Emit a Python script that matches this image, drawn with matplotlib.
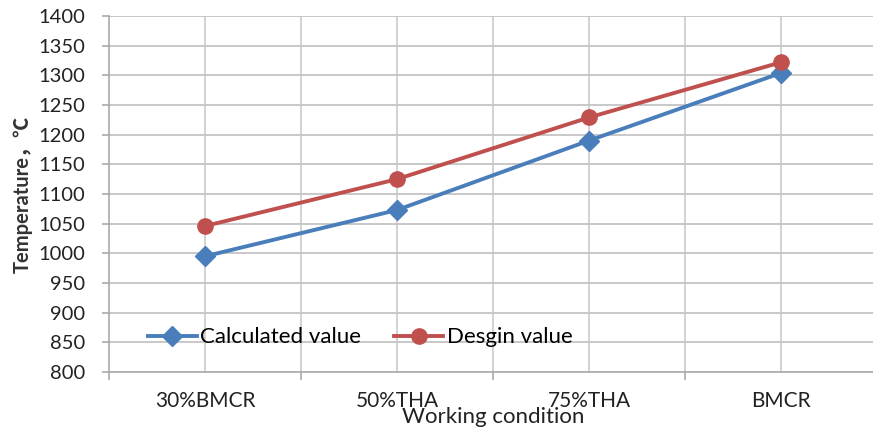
import matplotlib
matplotlib.use("Agg")
import matplotlib.pyplot as plt
import numpy as np

conditions = ["30%BMCR", "50%THA", "75%THA", "BMCR"]
calculated = [995, 1073, 1190, 1304]
design = [1046, 1125, 1229, 1322]
y_ticks = list(range(800, 1401, 50))

plt.rcParams["font.family"] = ["Lato", "Noto Sans CJK SC", "DejaVu Sans"]

fig = plt.figure(figsize=(8.73, 4.40), dpi=100)
ax = fig.add_axes([109 / 873, 1 - 372 / 440, 768 / 873, 356 / 440])

x = np.arange(len(conditions))
blue = "#4a7ebb"
red = "#c0504d"

ax.plot(x, calculated, color=blue, lw=2.8, marker="D", ms=10.5,
        label="Calculated value", zorder=3)
ax.plot(x, design, color=red, lw=2.8, marker="o", ms=11,
        label="Desgin value", zorder=4)

ax.set_xlim(-0.5, 3.5)
ax.set_ylim(800, 1400)
ax.set_yticks(y_ticks)
ax.set_yticklabels([str(v) for v in y_ticks], fontsize=14.5, color="#222222")
ax.set_xticks(x)
ax.set_xticklabels(conditions, fontsize=15, color="#222222")
ax.tick_params(axis="x", length=0, pad=14)
ax.tick_params(axis="y", length=5, color="#aaaaaa", width=1.2, pad=12)

# tick marks on category boundaries, gridlines at boundaries and centres
ax.set_xticks(np.arange(-0.5, 3.6, 1.0), minor=True)
ax.tick_params(axis="x", which="minor", length=6, color="#aaaaaa", width=1.2)
ax.grid(True, which="major", axis="y", color="#c4c4c4", lw=1.3)
for xv in np.arange(0.5, 3.6, 0.5):
    ax.axvline(xv, color="#cfcfcf", lw=1.3, zorder=0)
ax.axvline(0, color="#cfcfcf", lw=1.3, zorder=0)
ax.set_axisbelow(True)

for s in ["top", "right"]:
    ax.spines[s].set_visible(False)
for s in ["left", "bottom"]:
    ax.spines[s].set_color("#aaaaaa")
    ax.spines[s].set_linewidth(1.2)

ax.set_xlabel("Working condition", fontsize=16, labelpad=-3, color="#222222")
ax.set_ylabel("Temperature，℃", fontsize=14.5, fontweight="bold",
              color="#333333", labelpad=4)

leg = ax.legend(loc="center", bbox_to_anchor=(0.327, 0.097), ncol=2,
                frameon=False, fontsize=16, handlelength=2.2,
                columnspacing=1.5, handletextpad=0.15)

fig.savefig("out.png", dpi=100)
